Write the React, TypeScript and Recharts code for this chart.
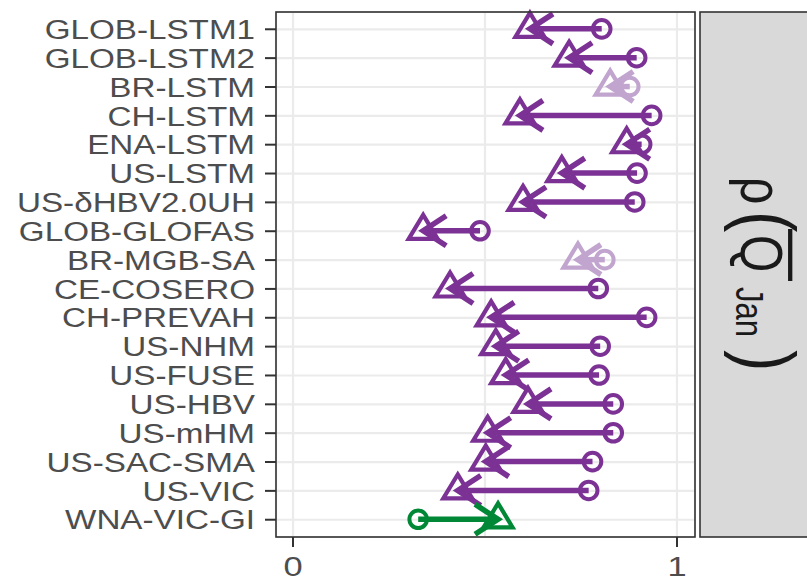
import React from "react";
import { ComposedChart, Bar, XAxis, YAxis, CartesianGrid } from "recharts";

const models = [
  "GLOB-LSTM1", "GLOB-LSTM2", "BR-LSTM", "CH-LSTM", "ENA-LSTM", "US-LSTM",
  "US-δHBV2.0UH", "GLOB-GLOFAS", "BR-MGB-SA", "CE-COSERO", "CH-PREVAH",
  "US-NHM", "US-FUSE", "US-HBV", "US-mHM", "US-SAC-SMA", "US-VIC", "WNA-VIC-GI",
];
const startValues = [
  0.804, 0.895, 0.877, 0.934, 0.908, 0.896, 0.890, 0.487, 0.812, 0.795, 0.921,
  0.800, 0.797, 0.834, 0.834, 0.780, 0.770, 0.326,
];
const endValues = [
  0.617, 0.719, 0.826, 0.591, 0.869, 0.700, 0.599, 0.339, 0.742, 0.409, 0.516,
  0.528, 0.554, 0.612, 0.507, 0.502, 0.429, 0.534,
];
const rowGroups = [
  "decline", "decline", "minor", "decline", "decline", "decline", "decline",
  "decline", "minor", "decline", "decline", "decline", "decline", "decline",
  "decline", "decline", "decline", "gain",
];
const xTickValues = [0, 0.5, 1];
const xTickLabels = ["0", "", "1"];
const stripParts = { rho: "ρ", open: "(", q: "Q", sub: "Jan", close: ")" };

const GROUP_COLORS: Record<string, string> = {
  decline: "#7b3294",
  minor: "#c2a5cf",
  gain: "#008837",
};

const W = 807;
const H = 580;
const PLOT_LEFT = 276;
const PLOT_RIGHT = 695;
const PLOT_TOP = 12;
const PLOT_BOTTOM = 537;
const X_MIN = -0.0443;
const X_MAX = 1.0469;
const SX = 1.23;
const FONT = "'Liberation Sans', Arial, Helvetica, sans-serif";
const TEXT_COLOR = "#4d4d4d";
const FS = 27;

const data = models.map((name, i) => ({
  name,
  start: startValues[i],
  end: endValues[i],
  group: rowGroups[i],
}));

function ArrowShape(props: any) {
  const { x, y, width, height, payload } = props;
  if (x == null || y == null || !payload) return null;
  const cy = y + height / 2;
  const lo = x;
  const hi = x + width;
  const forward = payload.end >= payload.start;
  const sx = forward ? lo : hi;
  const ex = forward ? hi : lo;
  const dir = forward ? 1 : -1;
  const color = GROUP_COLORS[payload.group];
  const tri = `${ex},${cy - 16} ${ex + 14.5},${cy + 8} ${ex - 14.5},${cy + 8}`;
  return (
    <g>
      <circle cx={sx} cy={cy} r={8.8} fill="none" stroke={color} strokeWidth={4} />
      <polygon points={tri} fill="none" stroke={color} strokeWidth={4.2} strokeLinejoin="miter" />
      <line x1={sx} y1={cy} x2={ex} y2={cy} stroke={color} strokeWidth={5.5} />
      <polyline
        points={`${ex - dir * 23},${cy - 15} ${ex},${cy} ${ex - dir * 23},${cy + 15}`}
        fill="none"
        stroke={color}
        strokeWidth={5.5}
        strokeLinejoin="miter"
      />
    </g>
  );
}

function YTick(props: any) {
  const { y, payload } = props;
  return (
    <g>
      <line x1={PLOT_LEFT - 11} y1={y} x2={PLOT_LEFT} y2={y} stroke="#333333" strokeWidth={2} />
      <text
        transform={`translate(${PLOT_LEFT - 21},${y + FS * 0.36}) scale(${SX},1)`}
        textAnchor="end"
        fontFamily={FONT}
        fontSize={FS}
        fill={TEXT_COLOR}
      >
        {payload.value}
      </text>
    </g>
  );
}

function XTick(props: any) {
  const { x, payload } = props;
  const idx = xTickValues.indexOf(payload.value);
  const label = idx >= 0 ? xTickLabels[idx] : "";
  if (!label) return null;
  return (
    <g>
      <line x1={x} y1={PLOT_BOTTOM} x2={x} y2={PLOT_BOTTOM + 10} stroke="#333333" strokeWidth={2} />
      <text
        transform={`translate(${x},${PLOT_BOTTOM + 39}) scale(${SX},1)`}
        textAnchor="middle"
        fontFamily={FONT}
        fontSize={28}
        fill={TEXT_COLOR}
      >
        {label}
      </text>
    </g>
  );
}

function Overlay() {
  const baseX = 741;
  return (
    <svg
      width={W}
      height={H}
      style={{ position: "absolute", left: 0, top: 0, pointerEvents: "none" }}
    >
      <rect
        x={PLOT_LEFT}
        y={PLOT_TOP}
        width={PLOT_RIGHT - PLOT_LEFT}
        height={PLOT_BOTTOM - PLOT_TOP}
        fill="none"
        stroke="#333333"
        strokeWidth={1.6}
      />
      <rect
        x={700}
        y={PLOT_TOP}
        width={120}
        height={PLOT_BOTTOM - PLOT_TOP}
        fill="#d9d9d9"
        stroke="#333333"
        strokeWidth={1.6}
      />
      <g transform={`translate(${baseX},0) scale(${SX},1) rotate(90)`} fontFamily={FONT} fill="#1a1a1a">
        <text x={177} y={0} fontSize={48}>{stripParts.rho}</text>
        <text x={211} y={1} fontSize={64}>{stripParts.open}</text>
        <text x={235} y={0} fontSize={48}>{stripParts.q}</text>
        <line x1={229} y1={-40} x2={281} y2={-40} stroke="#1a1a1a" strokeWidth={3.5} />
        <text x={287} y={4} fontSize={31}>{stripParts.sub}</text>
        <text x={350} y={1} fontSize={64}>{stripParts.close}</text>
      </g>
    </svg>
  );
}

export default function App() {
  return (
    <div style={{ position: "absolute", left: 0, top: 0, width: W, height: H, background: "#ffffff" }}>
      <ComposedChart
        width={W}
        height={H}
        data={data}
        layout="vertical"
        margin={{ top: PLOT_TOP, right: W - PLOT_RIGHT, bottom: 0, left: 0 }}
      >
        <CartesianGrid stroke="#ebebeb" strokeWidth={2.2} />
        <XAxis
          type="number"
          domain={[X_MIN, X_MAX]}
          allowDataOverflow
          ticks={xTickValues}
          height={H - PLOT_BOTTOM}
          axisLine={false}
          tickLine={false}
          tick={<XTick />}
        />
        <YAxis
          type="category"
          dataKey="name"
          width={PLOT_LEFT}
          axisLine={false}
          tickLine={false}
          interval={0}
          padding={{ top: 2.85, bottom: 2.85 }}
          tick={<YTick />}
        />
        <Bar
          dataKey={(d: any) => [Math.min(d.start, d.end), Math.max(d.start, d.end)]}
          barSize={10}
          isAnimationActive={false}
          shape={<ArrowShape />}
        />
      </ComposedChart>
      <Overlay />
    </div>
  );
}
